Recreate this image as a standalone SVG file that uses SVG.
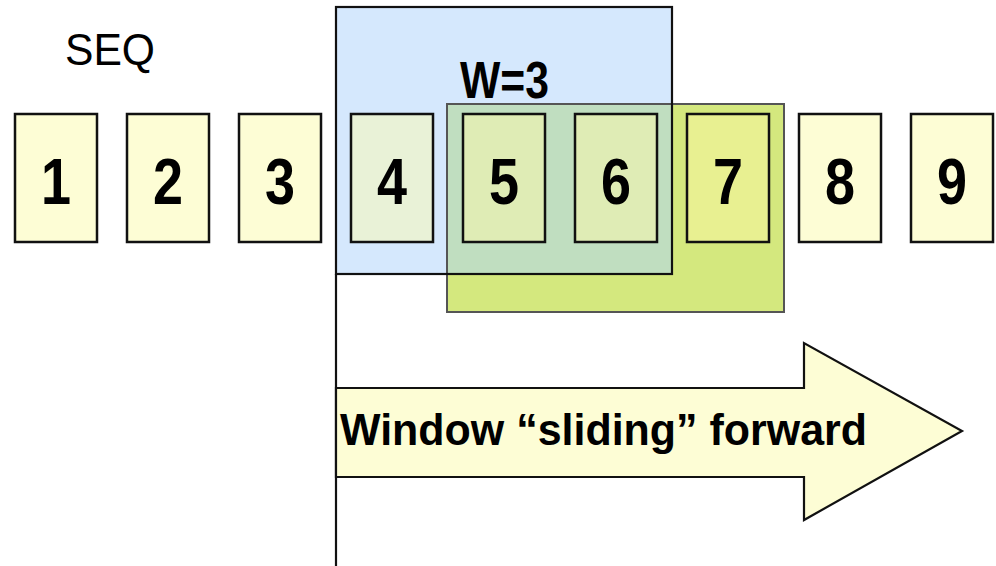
<svg xmlns="http://www.w3.org/2000/svg" width="996" height="566" viewBox="0 0 996 566">
<style>
.box{stroke:#111;stroke-width:2.5}
.y{fill:#fdfdd5}
.num{font-family:"Liberation Sans",Arial,sans-serif;font-weight:bold;font-size:65px;fill:#000;text-anchor:middle}
</style>
<rect width="996" height="566" fill="#fff"/>
<g id="window-old">
<rect x="336" y="7" width="336" height="267" fill="#d5e8fd"/>
</g>
<g id="window-new">
<rect x="447" y="104" width="337" height="208" fill="#d4e87e"/>
<rect x="447" y="104" width="225" height="170" fill="#c0dec0"/>
<rect x="447" y="104" width="337" height="208" fill="none" stroke="#555" stroke-width="2"/>
</g>
<rect x="336" y="7" width="336" height="267" fill="none" stroke="#111" stroke-width="2.2"/>
<g id="connectors">
<line x1="336" y1="274" x2="336" y2="566" stroke="#111" stroke-width="2.2"/>
</g>
<text id="seq" x="65" y="65" font-family="'Liberation Sans',Arial,sans-serif" font-size="44" textLength="90" lengthAdjust="spacingAndGlyphs">SEQ</text>
<text id="w3" x="460" y="98" font-family="'Liberation Sans',Arial,sans-serif" font-weight="bold" font-size="52" textLength="89" lengthAdjust="spacingAndGlyphs">W=3</text>
<g id="n1"><rect class="box y" x="15" y="114" width="82" height="128"/><text class="num" x="56" y="204" textLength="30" lengthAdjust="spacingAndGlyphs">1</text></g>
<g id="n2"><rect class="box y" x="127" y="114" width="82" height="128"/><text class="num" x="168" y="204" textLength="30" lengthAdjust="spacingAndGlyphs">2</text></g>
<g id="n3"><rect class="box y" x="239" y="114" width="82" height="128"/><text class="num" x="280" y="204" textLength="30" lengthAdjust="spacingAndGlyphs">3</text></g>
<g id="n4"><rect class="box" fill="#e9f2d7" x="351" y="114" width="82" height="128"/><text class="num" x="392" y="204" textLength="30" lengthAdjust="spacingAndGlyphs">4</text></g>
<g id="n5"><rect class="box" fill="#dfecb5" x="463" y="114" width="82" height="128"/><text class="num" x="504" y="204" textLength="30" lengthAdjust="spacingAndGlyphs">5</text></g>
<g id="n6"><rect class="box" fill="#dfecb5" x="575" y="114" width="82" height="128"/><text class="num" x="616" y="204" textLength="30" lengthAdjust="spacingAndGlyphs">6</text></g>
<g id="n7"><rect class="box" fill="#e8f091" x="687" y="114" width="82" height="128"/><text class="num" x="728" y="204" textLength="30" lengthAdjust="spacingAndGlyphs">7</text></g>
<g id="n8"><rect class="box y" x="799" y="114" width="82" height="128"/><text class="num" x="840" y="204" textLength="30" lengthAdjust="spacingAndGlyphs">8</text></g>
<g id="n9"><rect class="box y" x="911" y="114" width="82" height="128"/><text class="num" x="952" y="204" textLength="30" lengthAdjust="spacingAndGlyphs">9</text></g>
<g id="arrow">
<polygon points="336,388 804,388 804,343 962,431 804,520 804,477 336,477" fill="#fdfdd5" stroke="#111" stroke-width="2.2" stroke-linejoin="miter"/>
<text x="340" y="445" font-family="'Liberation Sans',Arial,sans-serif" font-weight="bold" font-size="45" textLength="527" lengthAdjust="spacingAndGlyphs">Window “sliding” forward</text>
</g>
</svg>
